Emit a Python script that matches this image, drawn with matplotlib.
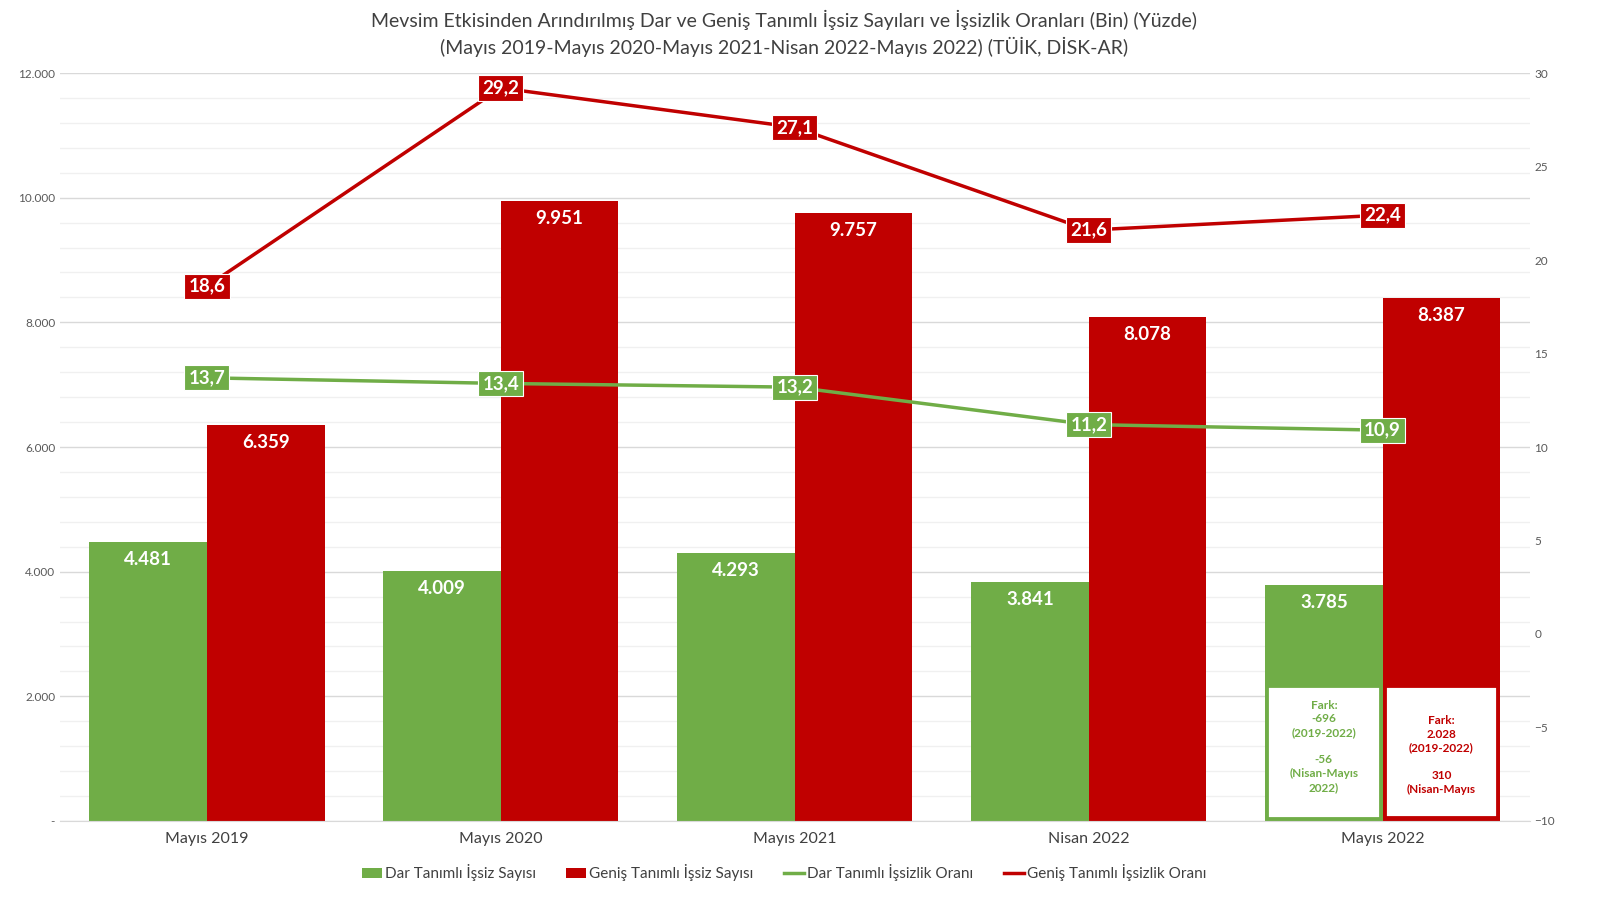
import matplotlib.pyplot as plt
import numpy as np
from matplotlib.patches import Rectangle
from matplotlib.ticker import MultipleLocator, FuncFormatter

plt.rcParams['font.family'] = ['Lato', 'DejaVu Sans']

categories = ["Mayıs 2019", "Mayıs 2020", "Mayıs 2021", "Nisan 2022", "Mayıs 2022"]
dar_sayi = [4481, 4009, 4293, 3841, 3785]
genis_sayi = [6359, 9951, 9757, 8078, 8387]
dar_oran = [13.7, 13.4, 13.2, 11.2, 10.9]
genis_oran = [18.6, 29.2, 27.1, 21.6, 22.4]

green = "#70AD47"
red = "#C00000"
grey = "#595959"

def tr_num(v, pos=None):
    if v == 0:
        return "-"
    return f"{v:,.0f}".replace(",", ".")

fig = plt.figure(figsize=(16, 9.13), dpi=100)
ax = fig.add_axes([0.0375, 0.1008, 0.9185, 0.8192])
ax2 = ax.twinx()

x = np.arange(len(categories))
w = 0.4
b1 = ax.bar(x - w / 2, dar_sayi, w, color=green, label="Dar Tanımlı İşsiz Sayısı", zorder=2)
b2 = ax.bar(x + w / 2, genis_sayi, w, color=red, label="Geniş Tanımlı İşsiz Sayısı", zorder=2)

for bars in (b1, b2):
    for r in bars:
        ax.text(r.get_x() + r.get_width() / 2, r.get_height() - 280, tr_num(r.get_height()),
                ha="center", va="center", color="white", fontsize=13.5, fontweight="bold", zorder=3)

ax.set_xlim(-0.5, len(categories) - 0.5)
ax.set_ylim(0, 12000)
ax.yaxis.set_major_locator(MultipleLocator(2000))
ax.yaxis.set_minor_locator(MultipleLocator(400))
ax.yaxis.set_major_formatter(FuncFormatter(tr_num))
ax.grid(axis="y", which="major", color="#D9D9D9", lw=1, zorder=0)
ax.grid(axis="y", which="minor", color="#F0F0F0", lw=1, zorder=0)
ax.set_axisbelow(True)
ax.set_xticks(x)
ax.set_xticklabels(categories, fontsize=11.5, color="#404040")
ax.tick_params(axis="x", length=0, pad=8)
ax.tick_params(axis="y", which="both", length=0, labelsize=8.5, labelcolor=grey)
for s in ["top", "left", "right"]:
    ax.spines[s].set_visible(False)
    ax2.spines[s].set_visible(False)
ax.spines["bottom"].set_color("#D9D9D9")
ax2.spines["bottom"].set_visible(False)

l1, = ax2.plot(x, dar_oran, color=green, lw=2.5, label="Dar Tanımlı İşsizlik Oranı", zorder=4)
l2, = ax2.plot(x, genis_oran, color=red, lw=2.5, label="Geniş Tanımlı İşsizlik Oranı", zorder=4)
for xs, ys, c in ((x, dar_oran, green), (x, genis_oran, red)):
    for xi, yi in zip(xs, ys):
        ax2.text(xi, yi, f"{yi:.1f}".replace(".", ","), ha="center", va="center", color="white",
                 fontsize=13.5, fontweight="bold", zorder=5,
                 bbox=dict(boxstyle="square,pad=0.22", fc=c, ec="white", lw=0.8))
ax2.set_ylim(-10, 30)
ax2.yaxis.set_major_locator(MultipleLocator(5))
ax2.tick_params(axis="y", length=0, labelsize=8.5, labelcolor=grey)

# difference boxes on last group
i = len(categories) - 1
ax.add_patch(Rectangle((i - w + 0.01, 50), w - 0.02, 2100, fc="white", ec=green, lw=1.3, zorder=6))
ax.add_patch(Rectangle((i + 0.01, 70), w - 0.02, 2080, fc="white", ec=red, lw=1.3, zorder=6))
ax.text(i - w / 2, 1200, "Fark:\n-696\n(2019-2022)\n\n-56\n(Nisan-Mayıs\n2022)", ha="center", va="center",
        color=green, fontsize=8.5, fontweight="bold", linespacing=1.3, zorder=7)
ax.text(i + w / 2, 1060, "Fark:\n2.028\n(2019-2022)\n\n310\n(Nisan-Mayıs", ha="center", va="center",
        color=red, fontsize=8.5, fontweight="bold", linespacing=1.3, zorder=7)

fig.legend(handles=[b1, b2, l1, l2], loc="center", bbox_to_anchor=(0.49, 0.044), ncol=4,
           frameon=False, fontsize=11, handlelength=1.3, handletextpad=0.2, columnspacing=2,
           labelcolor="#404040")

fig.text(0.49, 0.978, "Mevsim Etkisinden Arındırılmış Dar ve Geniş Tanımlı İşsiz Sayıları ve İşsizlik Oranları (Bin) (Yüzde)",
         ha="center", va="center", fontsize=14, color="#404040")
fig.text(0.49, 0.949, "(Mayıs 2019-Mayıs 2020-Mayıs 2021-Nisan 2022-Mayıs 2022) (TÜİK, DİSK-AR)",
         ha="center", va="center", fontsize=14, color="#404040")

fig.savefig("out.png", dpi=100)
